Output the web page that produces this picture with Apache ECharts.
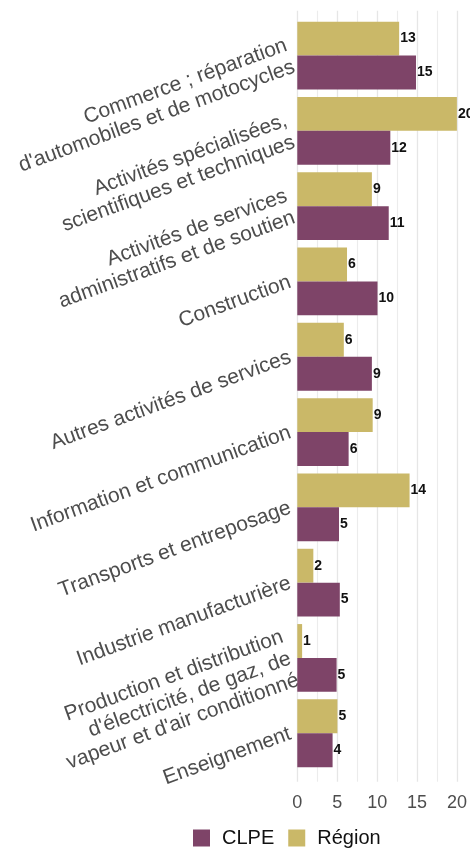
<!DOCTYPE html>
<html>
<head>
<meta charset="UTF-8"/>
<title>CLPE vs Région</title>
<script src="https://cdn.jsdelivr.net/npm/echarts@6/dist/echarts.min.js"></script>
<style>
  html, body { margin: 0; padding: 0; background: #fff; }
  #chart { width: 470px; height: 850px; }
</style>
</head>
<body>
<div id="chart"></div>
<script>
// secteurs, du haut vers le bas
var secteurs = [
    "Commerce ; réparation\nd'automobiles et de motocycles",
    "Activités spécialisées,\nscientifiques et techniques",
    "Activités de services\nadministratifs et de soutien",
    "Construction",
    "Autres activités de services",
    "Information et communication",
    "Transports et entreposage",
    "Industrie manufacturière",
    "Production et distribution\nd'électricité, de gaz, de\nvapeur et d'air conditionné",
    "Enseignement"
];
var clpe   = [14.8, 11.6, 11.4, 10.0, 9.3, 6.4, 5.2, 5.3, 4.9, 4.4];
var region = [12.7, 19.9, 9.3, 6.2, 5.8, 9.4, 14.0, 2.0, 0.6, 5.0];
var xTicks = [0, 5, 10, 15, 20];

var colClpe = '#7e4468';
var colRegion = '#cab868';

var valLabel = {
    show: true,
    position: 'right',
    distance: 1,
    color: '#111',
    fontWeight: 'bold',
    fontSize: 14,
    fontFamily: 'Liberation Sans',
    formatter: function (p) { return Math.round(p.value); }
};

var chart = echarts.init(document.getElementById('chart'));
chart.setOption({
    animation: false,
    textStyle: { fontFamily: 'Liberation Sans' },
    legend: {
        left: 188,
        top: 823,
        itemWidth: 17,
        itemHeight: 17,
        itemGap: 14,
        icon: 'rect',
        data: ['CLPE', 'Région'],
        textStyle: { fontSize: 20, color: '#111', padding: [0, 0, 0, 7] }
    },
    grid: [
        // grille de fond (un peu plus haute que les barres)
        { left: 297.3, right: 12.3, top: 10.7, bottom: 68.3 },
        // barres
        { left: 297.3, right: 12.3, top: 17.9, height: 753 }
    ],
    xAxis: [
        {
            gridIndex: 0, type: 'value', min: xTicks[0], max: xTicks[xTicks.length - 1], interval: 5,
            axisLine: { show: false }, axisTick: { show: false },
            axisLabel: { fontSize: 18, color: '#4d4d4d', margin: 12 },
            splitLine: { show: true, lineStyle: { color: '#e6e6e6', width: 1.3 } },
            minorTick: { show: false, splitNumber: 2 },
            minorSplitLine: { show: true, lineStyle: { color: '#ececec', width: 1.1 } }
        },
        {
            gridIndex: 1, type: 'value', min: xTicks[0], max: xTicks[xTicks.length - 1], interval: 5,
            axisLine: { show: false }, axisTick: { show: false },
            axisLabel: { show: false }, splitLine: { show: false }
        }
    ],
    yAxis: [
        {
            gridIndex: 0, type: 'value', min: 0, max: 1, show: false
        },
        {
            gridIndex: 1, type: 'category', inverse: true, data: secteurs,
            axisLine: { show: false }, axisTick: { show: false },
            axisLabel: {
                rotate: 20, margin: 7, fontSize: 21, lineHeight: 23,
                color: '#4d4d4d', align: 'right', padding: [12, 0, 0, 0]
            }
        }
    ],
    series: [
        // Région en premier : barre du haut dans chaque groupe
        {
            name: 'Région', type: 'bar', xAxisIndex: 1, yAxisIndex: 1,
            data: region, barGap: '0%', barCategoryGap: '10%',
            itemStyle: { color: colRegion }, label: valLabel
        },
        {
            name: 'CLPE', type: 'bar', xAxisIndex: 1, yAxisIndex: 1,
            data: clpe, barGap: '0%', barCategoryGap: '10%',
            itemStyle: { color: colClpe }, label: valLabel
        }
    ]
});
</script>
</body>
</html>
